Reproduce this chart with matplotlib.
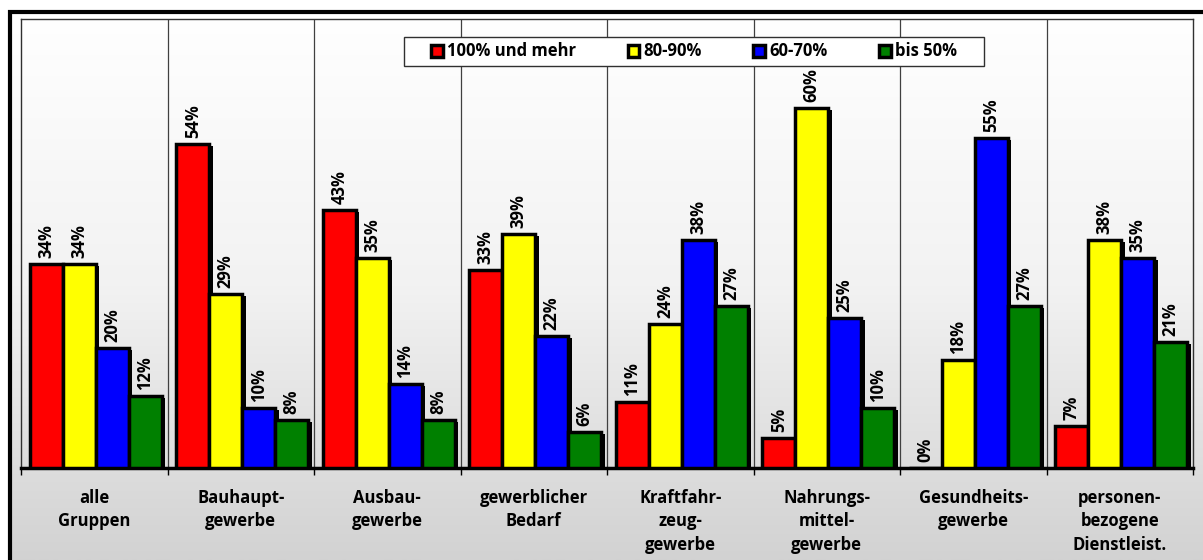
import matplotlib
matplotlib.use('Agg')
import matplotlib.pyplot as plt
import numpy as np
from matplotlib.patches import Rectangle, Patch
from matplotlib.colors import LinearSegmentedColormap

plt.rcParams['font.family'] = ['Open Sans', 'DejaVu Sans']
plt.rcParams['font.weight'] = 'bold'

# data
groups = ['alle\nGruppen', 'Bauhaupt-\ngewerbe', 'Ausbau-\ngewerbe', 'gewerblicher\nBedarf',
          'Kraftfahr-\nzeug-\ngewerbe', 'Nahrungs-\nmittel-\ngewerbe', 'Gesundheits-\ngewerbe',
          'personen-\nbezogene\nDienstleist.']
series_names = ['100% und mehr', '80-90%', '60-70%', 'bis 50%']
val_100 = [34, 54, 43, 33, 11, 5, 0, 7]
val_80 = [34, 29, 35, 39, 24, 60, 18, 38]
val_60 = [20, 10, 14, 22, 38, 25, 55, 35]
val_50 = [12, 8, 8, 6, 27, 10, 27, 21]
colors = ['#ff0000', '#ffff00', '#0000ff', '#008000']

W, H = 1203, 560
fig = plt.figure(figsize=(W / 100, H / 100), dpi=100)
fig.patch.set_facecolor('white')

# background gradient inside the outer frame
bg = fig.add_axes([12 / W, 0, 1 - 12 / W, (H - 12) / H], zorder=0)
cmap = LinearSegmentedColormap.from_list('g', ['#ffffff', '#f2f2f2', '#d2d2d2'])
bg.imshow(np.linspace(0, 1, 256).reshape(-1, 1), aspect='auto', cmap=cmap,
          extent=[0, 1, 0, 1], origin='upper')
bg.set_axis_off()

# outer thick frame (top and left visible)
fig.patches.append(Rectangle((10 / W, -0.1), 1.2, (H - 11.5) / H + 0.1, transform=fig.transFigure,
                             fill=False, edgecolor='black', linewidth=3.0, zorder=1))

ax = fig.add_axes([21 / W, (H - 468) / H, (1193 - 21) / W, (468 - 19) / H], zorder=2)
ax.set_facecolor('none')

n = len(groups)
x = np.arange(n)
bw = 0.225
px = 1 / 146.5
all_vals = [val_100, val_80, val_60, val_50]
for i, (vals, c, name) in enumerate(zip(all_vals, colors, series_names)):
    xs = x + (i - 1.5) * bw + 0.01
    v = np.array(vals, dtype=float)
    # shadow
    ax.bar(xs + 3.5 * px, np.where(v > 0, v - 0.35, 0), width=bw, color='black',
           linewidth=0, zorder=3)
    ax.bar(xs, v, width=bw, color=c, edgecolor='black', linewidth=2.5,
           zorder=4, label=name)
    for xi, vi in zip(xs, vals):
        ax.annotate(f'{vi}%', (xi, vi), xytext=(0, 4), textcoords='offset points',
                    rotation=90, ha='center', va='bottom', fontsize=12,
                    fontweight='bold', zorder=5)

ax.set_xlim(-0.5, n - 0.5)
ax.set_ylim(0, 449 / 6)
ax.set_yticks([])

for b in np.arange(0.5, n - 0.5, 1):
    ax.axvline(b, color='#404040', linewidth=0.9, zorder=1)

ax.set_xticks(x)
ax.set_xticklabels(groups, fontsize=12, fontweight='bold', linespacing=1.4)
ax.tick_params(axis='x', which='major', length=0, pad=15)
ax.set_xticks(np.arange(-0.5, n, 1), minor=True)
ax.tick_params(axis='x', which='minor', length=5, width=1, color='black', direction='out')

for s in ['top', 'left', 'right']:
    ax.spines[s].set_color('#303030')
    ax.spines[s].set_linewidth(1.0)
ax.spines['bottom'].set_linewidth(2.5)
ax.spines['bottom'].set_color('black')

# legend box
ax.add_patch(Rectangle(((404 - 21) / 1172, (468 - 66) / 449), (984 - 404) / 1172, 29 / 449,
                       transform=ax.transAxes, facecolor='white', edgecolor='#303030',
                       linewidth=1.0, zorder=6))
handles = [Patch(facecolor=c, edgecolor='black', linewidth=2.5, label=nm)
           for c, nm in zip(colors, series_names)]
leg = ax.legend(handles=handles, ncol=4, loc='center left',
                bbox_to_anchor=((431 - 21) / 1172, (468 - 51.5) / 449),
                frameon=False, fontsize=12, handlelength=0.7, handleheight=0.7,
                handletextpad=0.25, columnspacing=3.1, borderpad=0, borderaxespad=0)
leg.set_zorder(7)
for t in leg.get_texts():
    t.set_fontweight('bold')

fig.savefig('out.png', dpi=100)
